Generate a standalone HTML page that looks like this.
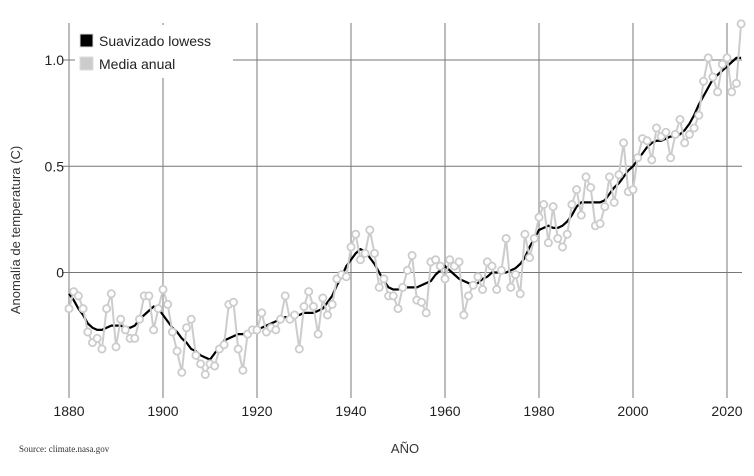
<!DOCTYPE html>
<html><head><meta charset="utf-8"><style>
body{margin:0;background:#fff}
svg text{font-family:"Liberation Sans",sans-serif}
</style></head><body>
<svg id="c" width="754" height="471" viewBox="0 0 754 471" xmlns="http://www.w3.org/2000/svg">
<g id="grid"></g><g id="series"></g>
<text x="20" y="230" transform="rotate(-90 20 230)" text-anchor="middle" font-size="13" fill="#333">Anomalía de temperatura (C)</text>
<text x="405" y="453" text-anchor="middle" font-size="13" fill="#333">AÑO</text>
<text x="19" y="452" font-size="9" fill="#333" style="font-family:'Liberation Serif',serif">Source: climate.nasa.gov</text>
<g>
<rect x="75" y="25" width="158" height="53" fill="#fff"/>
<rect x="80" y="34" width="13" height="13" fill="#000" stroke="#ddd" stroke-width="1"/>
<text x="99" y="46" font-size="14" fill="#222">Suavizado lowess</text>
<rect x="80" y="57" width="13" height="13" fill="#ccc" stroke="#ddd" stroke-width="1"/>
<text x="99" y="69" font-size="14" fill="#222">Media anual</text>
</g>
</svg>
<script>
const startYear = 1880;
const annual = [-0.17,-0.09,-0.11,-0.17,-0.28,-0.33,-0.31,-0.36,-0.17,-0.10,-0.35,-0.22,-0.27,-0.31,-0.31,-0.22,-0.11,-0.11,-0.27,-0.17,
-0.08,-0.15,-0.28,-0.37,-0.47,-0.26,-0.22,-0.39,-0.43,-0.48,-0.43,-0.44,-0.36,-0.34,-0.15,-0.14,-0.36,-0.46,-0.29,-0.27,
-0.27,-0.19,-0.28,-0.26,-0.27,-0.22,-0.11,-0.22,-0.20,-0.36,-0.16,-0.09,-0.16,-0.29,-0.12,-0.20,-0.15,-0.03,-0.01,-0.02,
0.12,0.18,0.06,0.09,0.20,0.09,-0.07,-0.03,-0.11,-0.11,-0.17,-0.07,0.01,0.08,-0.13,-0.14,-0.19,0.05,0.06,0.03,
-0.03,0.06,0.03,0.05,-0.20,-0.11,-0.06,-0.02,-0.08,0.05,0.03,-0.08,0.01,0.16,-0.07,-0.01,-0.10,0.18,0.07,0.16,
0.26,0.32,0.14,0.31,0.16,0.12,0.18,0.32,0.39,0.27,0.45,0.40,0.22,0.23,0.31,0.45,0.33,0.46,0.61,0.38,
0.39,0.54,0.63,0.62,0.53,0.68,0.64,0.66,0.54,0.65,0.72,0.61,0.65,0.68,0.74,0.90,1.01,0.92,0.85,0.98,
1.01,0.85,0.89,1.17];
const lowess = [-0.10,-0.13,-0.17,-0.20,-0.24,-0.26,-0.27,-0.27,-0.26,-0.25,-0.25,-0.25,-0.26,-0.26,-0.25,-0.22,-0.20,-0.18,-0.16,-0.17,
-0.20,-0.23,-0.26,-0.28,-0.31,-0.33,-0.36,-0.37,-0.39,-0.40,-0.41,-0.38,-0.35,-0.32,-0.31,-0.30,-0.29,-0.29,-0.29,-0.28,
-0.27,-0.26,-0.25,-0.24,-0.23,-0.22,-0.21,-0.21,-0.20,-0.20,-0.19,-0.19,-0.19,-0.18,-0.17,-0.14,-0.11,-0.06,-0.02,0.03,
0.06,0.09,0.11,0.10,0.07,0.04,0.00,-0.04,-0.07,-0.08,-0.08,-0.07,-0.07,-0.07,-0.07,-0.06,-0.05,-0.04,-0.01,0.01,
0.03,0.01,-0.01,-0.03,-0.04,-0.05,-0.06,-0.05,-0.03,-0.02,0.00,0.00,0.00,0.00,0.01,0.02,0.04,0.07,0.12,0.16,
0.20,0.21,0.22,0.21,0.21,0.22,0.24,0.27,0.31,0.33,0.33,0.33,0.33,0.33,0.34,0.37,0.40,0.42,0.45,0.48,
0.50,0.53,0.56,0.59,0.61,0.62,0.62,0.63,0.64,0.64,0.65,0.67,0.70,0.74,0.79,0.83,0.87,0.91,0.93,0.95,
0.97,0.99,1.01,1.01];
const xTicks = [1880,1900,1920,1940,1960,1980,2000,2020];
const yTicks = [0,0.5,1.0];
const yTickLabels = ["0","0.5","1.0"];

const NS = "http://www.w3.org/2000/svg";
const x = yr => 69 + (yr - 1880) * 4.7;
const y = v => 272.5 - v * 212.5;
function mk(tag, attrs, parent){const e=document.createElementNS(NS,tag);for(const k in attrs)e.setAttribute(k,attrs[k]);parent.appendChild(e);return e;}
const grid = document.getElementById('grid'), ser = document.getElementById('series');
xTicks.forEach(t=>{
  const l = mk('line',{x1:x(t),x2:x(t),y1:23,y2:398,stroke:'#999','stroke-width':1.3},grid);
  
  
  const tx = mk('text',{x:x(t),y:416,'text-anchor':'middle','font-size':14,fill:'#222'},grid);
  tx.textContent = t;
  
  
});
yTicks.forEach((t,i)=>{
  const l = mk('line',{x1:62,x2:742,y1:y(t),y2:y(t),stroke:'#777','stroke-width':1.1},grid);
  
  
  const tx = mk('text',{x:64,y:y(t)+5,'text-anchor':'end','font-size':14,fill:'#222'},grid);
  tx.textContent = yTickLabels[i];
  
  
});
const lp = mk('polyline',{points:lowess.map((v,i)=>x(startYear+i)+','+y(v)).join(' '),fill:'none',stroke:'#000','stroke-width':2.2},ser);


const ap = mk('polyline',{points:annual.map((v,i)=>x(startYear+i)+','+y(v)).join(' '),fill:'none',stroke:'#ccc','stroke-width':2},ser);


annual.forEach((v,i)=>{
  const c = mk('circle',{cx:x(startYear+i),cy:y(v),r:3.6,fill:'#fff',stroke:'#ccc','stroke-width':1.8},ser);
  
  
});
</script>
</body></html>
